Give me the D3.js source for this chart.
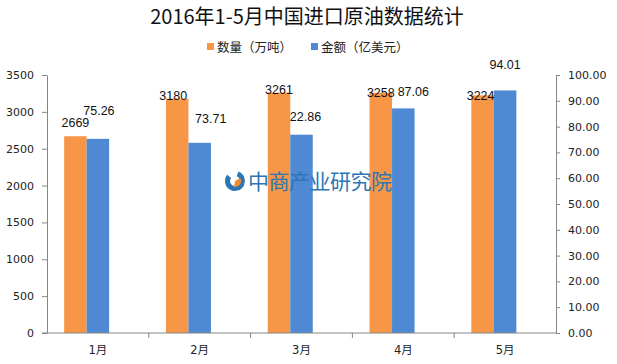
<!DOCTYPE html>
<html>
<head>
<meta charset="utf-8">
<script src="https://cdn.jsdelivr.net/npm/d3@7/dist/d3.min.js"></script>
<style>
  body { margin: 0; background: #fff; }
  svg { display: block; }
  .axis text { font-family: "DejaVu Sans", "Noto Sans CJK SC", sans-serif; font-size: 11px; fill: #222; }
  .axis path, .axis line { stroke: #868686; }
  .lbl { font-family: "Liberation Sans", Arial, sans-serif; font-size: 12.5px; fill: #111; }
</style>
</head>
<body>
<div id="chart"></div>
<script>
// Dados: importação de petróleo bruto, jan-mai 2016
const titulo = '2016年1-5月中国进口原油数据统计';
const meses = ['1月', '2月', '3月', '4月', '5月'];
const series = ['数量（万吨）', '金额（亿美元）'];
const quantidade = [2669, 3180, 3261, 3258, 3224];
const valor = [75.26, 73.71, 76.86, 87.06, 94.01];
// rótulos como aparecem no original (o de março diz 22.86)
const rotulosQtd = ['2669', '3180', '3261', '3258', '3224'];
const rotulosValor = ['75.26', '73.71', '22.86', '87.06', '94.01'];
const ticksEsq = [0, 500, 1000, 1500, 2000, 2500, 3000, 3500];
const ticksDir = [0, 10, 20, 30, 40, 50, 60, 70, 80, 90, 100];

const W = 617, H = 364;
const cores = ['#F79646', '#4F88D3'];

const svg = d3.select('#chart').append('svg')
  .attr('width', W).attr('height', H);

const mEsq = 47, mDir = 556, mTopo = 75, mBase = 333;

// Escalas
const x = d3.scaleBand().domain(meses).range([mEsq, mDir]).padding(0);
const yL = d3.scaleLinear().domain([0, 3500]).range([mBase, mTopo]);
const yR = d3.scaleLinear().domain([0, 100]).range([mBase, mTopo]);
const barW = 22.5;
// centro da categoria: a barra azul fica centrada, a laranja à esquerda
const centro = m => x(m) + x.bandwidth() / 2;

// Título
svg.append('text')
  .attr('x', 307).attr('y', 24)
  .attr('text-anchor', 'middle')
  .style('font-family', '"Noto Sans CJK SC", sans-serif')
  .style('font-size', '20px')
  .style('fill', '#111')
  .text(titulo);

// Legenda
const legX = [207, 311];
series.forEach((s, i) => {
  const g = svg.append('g').attr('transform', `translate(${legX[i]},47)`);
  g.append('rect').attr('x', 0).attr('y', -4).attr('width', 7).attr('height', 7).attr('fill', cores[i]);
  g.append('text').attr('x', 10).attr('y', 4.5)
    .style('font-family', '"Noto Sans CJK SC", sans-serif')
    .style('font-size', '12.5px').style('fill', '#222')
    .text(s);
});

// Barras
const bars = svg.append('g');
bars.selectAll('.q').data(quantidade).enter().append('rect')
  .attr('x', (d, i) => centro(meses[i]) - barW * 1.5)
  .attr('y', d => yL(d))
  .attr('width', barW)
  .attr('height', d => mBase - yL(d))
  .attr('fill', cores[0]);
bars.selectAll('.v').data(valor).enter().append('rect')
  .attr('x', (d, i) => centro(meses[i]) - barW / 2)
  .attr('y', d => yR(d))
  .attr('width', barW)
  .attr('height', d => mBase - yR(d))
  .attr('fill', cores[1]);

// Marca d'água (por cima das barras)
const wm = svg.append('g').attr('transform', 'translate(235,181)');
wm.append('path')
  .attr('d', d3.arc().innerRadius(5).outerRadius(10).startAngle(0.35).endAngle(Math.PI * 2 - 0.9)())
  .attr('fill', '#2d76b6');
wm.append('path')
  .attr('d', d3.arc().innerRadius(0).outerRadius(6).startAngle(Math.PI * 0.35).endAngle(Math.PI * 1.05)())
  .attr('fill', '#F08A2C');
wm.append('text').attr('x', 13).attr('y', 8)
  .style('font-family', '"Noto Sans CJK SC", sans-serif')
  .style('font-size', '21px').style('fill', '#2d76b6')
  .style('letter-spacing', '-0.5px')
  .text('中商产业研究院');

// Eixos
svg.append('g').attr('class', 'axis')
  .attr('transform', `translate(${mEsq},0)`)
  .call(d3.axisLeft(yL).tickValues(ticksEsq).tickFormat(d3.format('d')).tickSize(5).tickPadding(8).tickSizeOuter(0));

svg.append('g').attr('class', 'axis')
  .attr('transform', `translate(${mDir},0)`)
  .call(d3.axisRight(yR).tickValues(ticksDir).tickFormat(d3.format('.2f')).tickSize(4).tickPadding(8).tickSizeOuter(0));

const xg = svg.append('g').attr('class', 'axis')
  .attr('transform', `translate(0,${mBase})`)
  .call(d3.axisBottom(x).tickSize(0).tickPadding(13));
xg.select('.domain').remove();
xg.append('line').attr('x1', mEsq - 5).attr('x2', mDir).attr('y1', 0).attr('y2', 0).attr('stroke', '#868686');
xg.selectAll('.bnd').data(meses.slice(1)).enter().append('line')
  .attr('x1', d => x(d)).attr('x2', d => x(d))
  .attr('y1', 0).attr('y2', 5).attr('stroke', '#868686');
xg.selectAll('text').style('font-size', '11.5px');

// Rótulos de dados (deslocamentos manuais como no original)
const ajusteQ = [[0, -13], [-4, -3], [0, -3], [0, 0], [-2, 1]];
const ajusteV = [[1, -28], [11, -24], [4, -18], [10, -16], [0, -25]];
svg.selectAll('.lq').data(rotulosQtd).enter().append('text')
  .attr('class', 'lbl')
  .attr('text-anchor', 'middle')
  .attr('x', (d, i) => centro(meses[i]) - barW + ajusteQ[i][0])
  .attr('y', (d, i) => yL(quantidade[i]) + ajusteQ[i][1] + 4)
  .text(d => d);
svg.selectAll('.lv').data(rotulosValor).enter().append('text')
  .attr('class', 'lbl')
  .attr('text-anchor', 'middle')
  .attr('x', (d, i) => centro(meses[i]) + ajusteV[i][0])
  .attr('y', (d, i) => yR(valor[i]) + ajusteV[i][1] + 4)
  .text(d => d);
</script>
</body>
</html>
